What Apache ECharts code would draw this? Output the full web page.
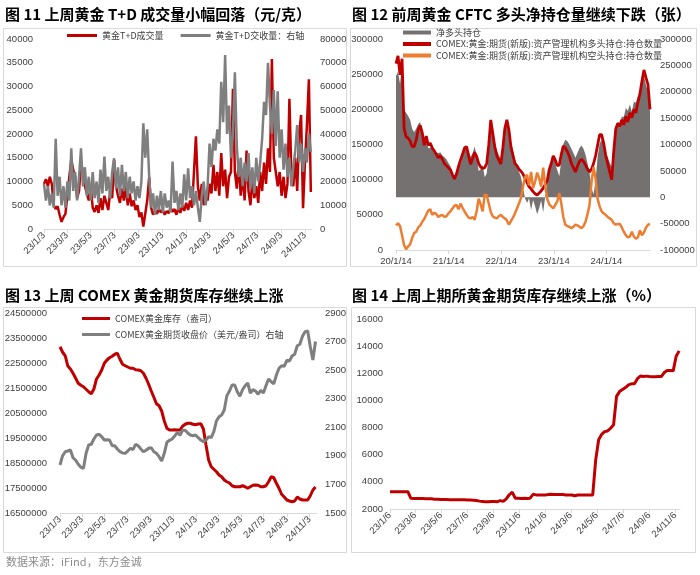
<!DOCTYPE html>
<html><head><meta charset="utf-8">
<script src="https://cdn.jsdelivr.net/npm/echarts@6/dist/echarts.min.js"></script>
<style>html,body{margin:0;padding:0;background:#fff}#c{width:700px;height:575px}</style>
</head><body><div id="c"></div>
<script>
// ---- tick labels ----
const p1Ticks = ['23/1/3','23/3/3','23/5/3','23/7/3','23/9/3','23/11/3','24/1/3','24/3/3','24/5/3','24/7/3','24/9/3','24/11/3'];
const p2Ticks = ['20/1/14','21/1/14','22/1/14','23/1/14','24/1/14'];
const p3Ticks = p1Ticks;
const p4Ticks = ['23/1/6','23/3/6','23/5/6','23/7/6','23/9/6','23/11/6','24/1/6','24/3/6','24/5/6','24/7/6','24/9/6','24/11/6'];

// ---- panel 1: SGE Au(T+D) volume (left) & delivery (right), one value every 5 days from 2023-01-03 ----
const p1Step = 5;
const p1Volume = [9500,10500,9000,11000,9500,5000,4200,4800,3000,1500,2500,3200,3000,11000,14500,12500,11000,6500,8000,14000,12000,9000,7500,6000,9000,4500,3600,5000,3400,6500,4000,7000,5500,4000,8000,6500,14500,9000,7000,5500,8500,6000,9000,5000,7500,4800,6000,4000,5000,2500,3500,500,200,6000,11000,4500,3000,3800,3200,4200,3500,4000,3000,3800,3300,4500,3600,4200,3000,4500,3400,5000,3800,5500,4000,6000,4500,12000,19500,9000,6000,9500,5000,8000,6000,9500,7500,13500,8000,12000,7000,16000,9000,12500,6500,11000,12000,29500,12000,8500,14000,7000,11500,6000,16500,8000,5000,10500,6500,9000,5500,12000,8000,14000,9500,17000,12000,35800,15000,15000,9000,12000,7000,11000,6500,9500,27400,12000,9000,15000,8000,20000,24000,4400,14000,22000,31500,7800];
const p1Delivery = [19000,12000,18000,10000,15000,9000,38000,14000,22000,10000,18000,9000,20000,12000,34000,16000,24000,12000,22000,34000,18000,26000,14000,22000,12000,24000,13000,20000,11000,25000,15000,30500,16000,22000,13000,24000,29800,17000,26000,14000,27000,16000,24000,13000,22000,15000,20000,12000,18000,13000,20000,44500,30000,42000,22000,9000,15000,6000,14000,8000,16000,7000,15000,9000,12000,7000,28400,11000,16000,8000,15000,9000,23000,12000,25500,13000,18000,10000,16000,9000,3000,14000,20000,10000,18000,36000,26000,38000,33000,42000,36000,62000,45000,73300,40000,52000,30000,40000,66000,35000,22000,30000,18000,28000,20000,32000,17000,26000,15000,30000,20000,28000,38000,53500,48000,70000,52000,40000,58500,35000,58000,30000,42000,25000,36000,22000,30000,18000,26000,33000,43800,28000,36000,24000,34000,28000,40000,32400];

// ---- panel 2: CFTC managed money, one value every 14 days from 2020-01-14 ----
const p2Step = 14;
const p2Net = [230000,238000,215000,251000,166000,160000,154000,147000,130000,123000,130000,139000,142000,127000,105000,112000,93000,94000,95000,88000,85000,84000,85000,79000,76000,72000,65000,59000,48000,38000,44000,61000,62000,76000,90000,97000,88000,77000,83000,96000,78000,50000,53000,61000,38000,45000,83000,131000,118000,101000,89000,80000,72000,98000,128000,143000,135000,106000,89000,71000,61000,49000,38000,18000,-2000,-11000,-2000,-24000,-5000,-17000,-32000,-21000,-6000,-29000,1000,25000,49000,61000,75000,64000,51000,40000,70000,101000,109000,106000,100000,92000,84000,75000,84000,93000,98000,92000,81000,64000,47000,18000,5000,32000,76000,102000,109000,100000,85000,76000,66000,57000,102000,136000,143000,139000,153000,152000,169000,164000,176000,162000,181000,179000,192000,194000,219000,231000,213000,199000,163000];
const p2Long = [265000,276000,249000,272000,173000,161000,159000,155000,147000,147000,156000,171000,177000,167000,149000,162000,149000,152000,145000,141000,136000,131000,134000,129000,123000,120000,117000,114000,107000,101000,108000,119000,128000,136000,145000,147000,134000,122000,130000,139000,133000,123000,118000,116000,117000,123000,149000,185000,166000,147000,134000,128000,122000,145000,173000,185000,171000,147000,135000,123000,120000,115000,112000,108000,102000,96000,90000,87000,83000,80000,78000,81000,84000,88000,93000,98000,114000,123000,134000,128000,120000,121000,136000,148000,145000,140000,133000,123000,117000,111000,119000,126000,129000,126000,121000,115000,111000,115000,123000,134000,149000,164000,164000,152000,135000,123000,111000,100000,140000,172000,180000,176000,185000,178000,190000,182000,195000,188000,200000,195000,210000,222000,240000,256000,245000,235000,200000];
const p2Short = [35000,38000,34000,21000,7000,1000,5000,8000,17000,24000,26000,32000,35000,40000,44000,50000,56000,58000,50000,53000,51000,47000,49000,50000,47000,48000,52000,55000,59000,63000,64000,58000,66000,60000,55000,50000,46000,45000,47000,43000,55000,73000,65000,55000,79000,78000,66000,54000,48000,46000,45000,48000,50000,47000,45000,42000,36000,41000,46000,52000,59000,66000,74000,90000,104000,107000,92000,111000,88000,97000,110000,102000,90000,117000,92000,73000,65000,62000,59000,64000,69000,81000,66000,47000,36000,34000,33000,31000,33000,36000,35000,33000,31000,34000,40000,51000,64000,97000,118000,102000,73000,62000,55000,52000,50000,47000,45000,43000,38000,36000,37000,37000,32000,26000,21000,18000,19000,26000,19000,16000,18000,28000,21000,25000,32000,36000,37000];

// ---- panel 3: COMEX inventory (left) & futures close (right), weekly from 2023-01-03 ----
const p3Step = 7;
const p3Stock = [23150000,22930000,22790000,22380000,22260000,22090000,21890000,21690000,21610000,21550000,21450000,21350000,21270000,21460000,21860000,22020000,22220000,22490000,22620000,22710000,22770000,22850000,22890000,22650000,22450000,22390000,22340000,22290000,22290000,22230000,22220000,22190000,22090000,21890000,21650000,21380000,21130000,20870000,20790000,20580000,20180000,19890000,19820000,19820000,19830000,19820000,19820000,19970000,20050000,20090000,20090000,20050000,20030000,20060000,20070000,19860000,19220000,18620000,18350000,18250000,18150000,18020000,17950000,17820000,17750000,17700000,17590000,17550000,17550000,17550000,17590000,17550000,17490000,17550000,17610000,17620000,17610000,17550000,17550000,17590000,17750000,17950000,17910000,17690000,17490000,17250000,17140000,17020000,16980000,16950000,16980000,17140000,17060000,17020000,17020000,17020000,17190000,17420000,17540000];
const p3Price = [1836,1901,1929,1934,1941,1887,1869,1841,1820,1813,1918,1976,1981,2018,2046,2051,2034,2011,2013,2011,1971,1971,1948,1929,1920,1918,1934,1953,1943,1981,1971,1948,1929,1939,1953,1957,1929,1918,1894,1864,1918,1995,2009,2018,2039,2065,2044,2079,2079,2060,2046,2041,2046,2027,2011,1999,2011,2034,2027,2069,2144,2174,2186,2221,2321,2354,2396,2396,2349,2317,2363,2391,2410,2340,2363,2354,2331,2359,2340,2391,2438,2419,2405,2466,2513,2531,2527,2569,2564,2599,2611,2671,2681,2737,2769,2774,2664,2571,2700];

// ---- panel 4: SHFE gold inventory, weekly from 2023-01-06 ----
const p4Step = 7;
const p4Stock = [3280,3280,3280,3280,3280,3280,3280,2790,2780,2780,2770,2770,2760,2760,2750,2710,2710,2700,2700,2700,2690,2690,2680,2690,2680,2680,2660,2660,2640,2620,2580,2560,2540,2540,2560,2550,2540,2620,2560,2750,3050,3250,2800,2790,2780,2790,2780,2800,3080,3040,3030,3040,3030,3060,3080,3070,3070,3060,3060,3040,3040,3030,2980,3030,3040,3040,3030,3030,3030,5600,7100,7500,7700,7750,7950,8200,10300,10650,10800,10950,11150,11220,11220,11600,11800,11760,11790,11760,11750,11750,11760,11760,12050,12200,12200,12180,13250,13650];

// ---- helpers ----
function dayCats(y, m, d, n) {
  const out = [], t0 = Date.UTC(y, m - 1, d);
  for (let k = 0; k < n; k++) {
    const dt = new Date(t0 + k * 86400000);
    out.push((dt.getUTCFullYear() % 100) + '/' + (dt.getUTCMonth() + 1) + '/' + dt.getUTCDate());
  }
  return out;
}
const pts = (arr, step) => arr.map((v, i) => [i * step, v]);
const p1Cats = dayCats(2023, 1, 3, 689);
const p2Cats = dayCats(2020, 1, 14, 1765);
const p3Cats = dayCats(2023, 1, 3, 691);
const p4Cats = dayCats(2023, 1, 6, 682);

const NUMF = "'Liberation Sans','Noto Sans CJK SC',sans-serif";
const CJK = "'Noto Sans CJK SC',sans-serif";
const RED = '#C00000', GRAY = '#7F7F7F', ORANGE = '#ED7D31', AREA = '#757171';

function xAx(gi, cats, ticks, rotate) {
  const set = new Set(ticks);
  const f = (i, v) => set.has(v);
  return {
    type: 'category', gridIndex: gi, data: cats, boundaryGap: false,
    axisLine: { onZero: false, lineStyle: { color: '#D9D9D9', width: 1 } },
    axisTick: { show: true, interval: f, length: 4, lineStyle: { color: '#D9D9D9' } },
    axisLabel: { interval: f, rotate: rotate, fontSize: 9.5, color: '#404040', margin: rotate ? 5 : 7, fontFamily: NUMF },
    splitLine: { show: false }
  };
}
const plain = v => String(v);
function yAx(gi, pos, min, max, interval, margin, fmt) {
  return {
    type: 'value', gridIndex: gi, position: pos, min: min, max: max, interval: interval,
    axisLine: { show: false }, axisTick: { show: false }, splitLine: { show: false },
    axisLabel: { fontSize: 9.5, color: '#404040', margin: margin, fontFamily: NUMF, formatter: fmt || plain }
  };
}
const lineS = (name, xi, yi, data, color, w) => ({
  name: name, type: 'line', xAxisIndex: xi, yAxisIndex: yi, data: data,
  showSymbol: false, symbol: 'none', connectNulls: true,
  lineStyle: { color: color, width: w }, itemStyle: { color: color }
});

const titleStyle = { fontSize: 15, fontWeight: 'bold', color: '#000', fontFamily: CJK };
const legText = { fontSize: 9, color: '#404040', fontFamily: CJK };

const option = {
  animation: false,
  backgroundColor: '#fff',
  title: [
    { text: '图 11 上周黄金 T+D 成交量小幅回落（元/克）', left: 5, top: 7, padding: 0, textStyle: titleStyle },
    { text: '图 12 前周黄金 CFTC 多头净持仓量继续下跌（张）', left: 352, top: 7, padding: 0, textStyle: titleStyle },
    { text: '图 13 上周 COMEX 黄金期货库存继续上涨', left: 5, top: 288, padding: 0, textStyle: titleStyle },
    { text: '图 14 上周上期所黄金期货库存继续上涨（%）', left: 352, top: 288, padding: 0, textStyle: titleStyle }
  ],
  graphic: [
    { type: 'rect', shape: { x: 3.5, y: 28.5, width: 343, height: 238 }, style: { fill: 'none', stroke: '#D9D9D9', lineWidth: 1 }, silent: true },
    { type: 'rect', shape: { x: 350.5, y: 28.5, width: 346, height: 238 }, style: { fill: 'none', stroke: '#D9D9D9', lineWidth: 1 }, silent: true },
    { type: 'rect', shape: { x: 3.5, y: 307.5, width: 343, height: 245 }, style: { fill: 'none', stroke: '#D9D9D9', lineWidth: 1 }, silent: true },
    { type: 'rect', shape: { x: 351.5, y: 307.5, width: 344, height: 245 }, style: { fill: 'none', stroke: '#D9D9D9', lineWidth: 1 }, silent: true },
    { type: 'text', left: 6, top: 556, style: { text: '数据来源：iFind，东方金诚', fill: '#8C8C8C', fontSize: 11, fontFamily: CJK } }
  ],
  legend: [
    { data: ['黄金T+D成交量', '黄金T+D交收量：右轴'], left: 67, top: 31, icon: 'rect', itemWidth: 30, itemHeight: 3, itemGap: 17, padding: 0, textStyle: legText },
    { data: ['净多头持仓', 'COMEX:黄金:期货(新版):资产管理机构多头持仓:持仓数量', 'COMEX:黄金:期货(新版):资产管理机构空头持仓:持仓数量'],
      orient: 'vertical', left: 403, top: 28, icon: 'rect', itemWidth: 28, itemHeight: 4, itemGap: 2.5, padding: 0, textStyle: legText },
    { data: ['COMEX黄金库存（盎司）', 'COMEX黄金期货收盘价（美元/盎司）右轴'],
      orient: 'vertical', left: 82, top: 314, icon: 'rect', itemWidth: 28, itemHeight: 3, itemGap: 7, padding: 0, textStyle: legText }
  ],
  grid: [
    { left: 44, top: 39, width: 268, height: 190 },
    { left: 396, top: 39, width: 254, height: 211 },
    { left: 60, top: 313, width: 257, height: 200 },
    { left: 390, top: 319, width: 290, height: 190 }
  ],
  xAxis: [
    xAx(0, p1Cats, p1Ticks, 45),
    xAx(1, p2Cats, p2Ticks, 0),
    xAx(2, p3Cats, p3Ticks, 45),
    xAx(3, p4Cats, p4Ticks, 45)
  ],
  yAxis: [
    yAx(0, 'left', 0, 40000, 5000, 11),
    yAx(0, 'right', 0, 80000, 10000, 8),
    yAx(1, 'left', 0, 300000, 50000, 13),
    yAx(1, 'right', -100000, 300000, 50000, 10),
    yAx(2, 'left', 16500000, 24500000, 500000, 13, v => ((v - 16500000) % 1000000 === 0 ? String(v) : '')),
    yAx(2, 'right', 1500, 2900, 100, 8, v => ((v - 1500) % 200 === 0 ? String(v) : '')),
    yAx(3, 'left', 2000, 16000, 2000, 7)
  ],
  series: [
    lineS('黄金T+D成交量', 0, 0, pts(p1Volume, p1Step), RED, 2.5),
    lineS('黄金T+D交收量：右轴', 0, 1, pts(p1Delivery, p1Step), GRAY, 2.5),
    Object.assign(lineS('净多头持仓', 1, 3, pts(p2Net, p2Step), AREA, 0), {
      areaStyle: { color: AREA, opacity: 1 }, lineStyle: { width: 0, color: AREA }
    }),
    lineS('COMEX:黄金:期货(新版):资产管理机构多头持仓:持仓数量', 1, 2, pts(p2Long, p2Step), RED, 2.8),
    lineS('COMEX:黄金:期货(新版):资产管理机构空头持仓:持仓数量', 1, 2, pts(p2Short, p2Step), ORANGE, 2.5),
    lineS('COMEX黄金库存（盎司）', 2, 4, pts(p3Stock, p3Step), RED, 3),
    lineS('COMEX黄金期货收盘价（美元/盎司）右轴', 2, 5, pts(p3Price, p3Step), GRAY, 3),
    lineS('上期所黄金库存', 3, 6, pts(p4Stock, p4Step), RED, 3)
  ]
};
const chart = echarts.init(document.getElementById('c'), null, { renderer: 'canvas' });
chart.setOption(option);
</script>
</body></html>
